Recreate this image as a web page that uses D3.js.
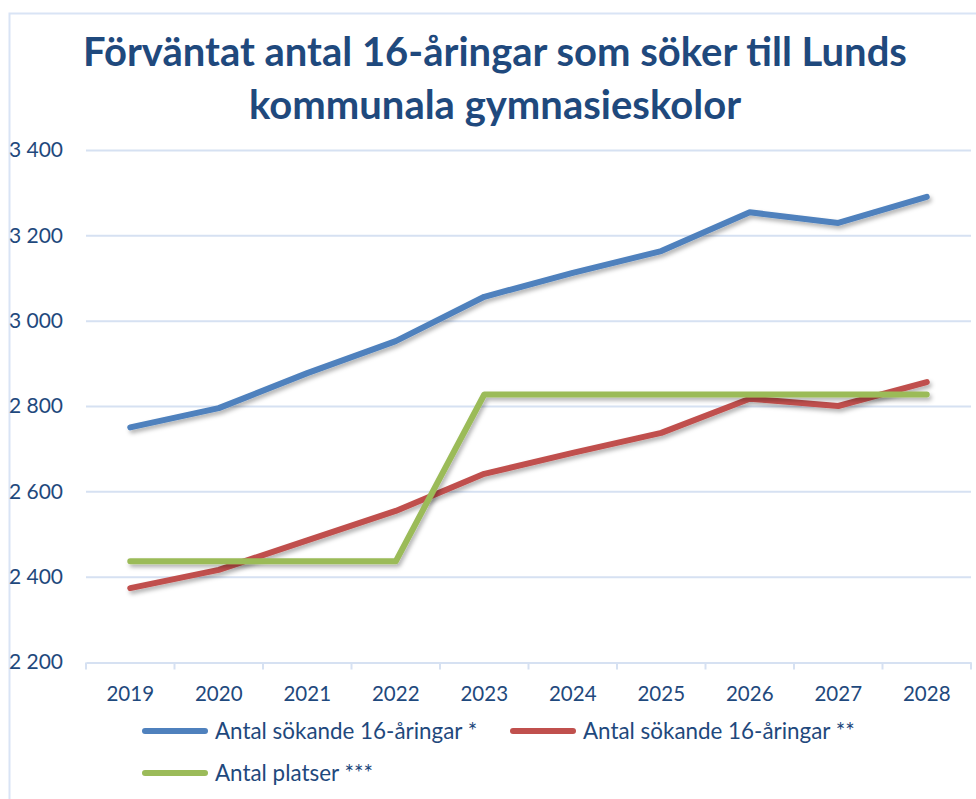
<!DOCTYPE html>
<html>
<head>
<meta charset="utf-8">
<script src="https://cdn.jsdelivr.net/npm/d3@7"></script>
<style>
  body { margin: 0; background: #fff; }
  svg text { font-family: Lato, "Open Sans", sans-serif; }
</style>
</head>
<body>
<div id="chart"></div>
<script>
// values
const years = ["2019", "2020", "2021", "2022", "2023", "2024", "2025", "2026", "2027", "2028"];
const sokandeA = [2750, 2795, 2877, 2952, 3056, 3112, 3163, 3254, 3229, 3290];
const sokandeB = [2373, 2416, 2485, 2554, 2641, 2690, 2737, 2817, 2800, 2856];
const platser = [2436, 2436, 2436, 2436, 2827, 2827, 2827, 2827, 2827, 2827];
const yTicks = [2200, 2400, 2600, 2800, 3000, 3200, 3400];
const titleLines = ["Förväntat antal 16-åringar som söker till Lunds", "kommunala gymnasieskolor"];

const series = [
    {name: "Antal sökande 16-åringar *", values: sokandeA, color: "#4f81bd"},
    {name: "Antal sökande 16-åringar **", values: sokandeB, color: "#c0504d"},
    {name: "Antal platser ***", values: platser, color: "#9bbb59"}
];

const width = 976, height = 799;
const textColor = "#1f497d";
const gridColor = "#d6e1f2";

const svg = d3.select("#chart").append("svg")
    .attr("width", width)
    .attr("height", height);

const defs = svg.append("defs");
defs.append("filter")
    .attr("id", "shadow")
    .attr("x", "-10%").attr("y", "-10%")
    .attr("width", "120%").attr("height", "130%")
    .append("feDropShadow")
    .attr("dx", 2).attr("dy", 3)
    .attr("stdDeviation", 2)
    .attr("flood-color", "#000")
    .attr("flood-opacity", 0.3);

// outer frame
svg.append("rect")
    .attr("x", 9.5).attr("y", 13.5)
    .attr("width", 1000).attr("height", 1000)
    .attr("fill", "none")
    .attr("stroke", "#d9e4f5")
    .attr("stroke-width", 2);

// title
svg.append("text")
    .attr("text-anchor", "middle")
    .attr("fill", textColor)
    .style("font-weight", "bold")
    .style("font-size", "40px")
    .selectAll("tspan")
    .data(titleLines)
    .join("tspan")
    .attr("x", 495)
    .attr("y", (d, i) => 66 + i * 53)
    .text(d => d);

const x = d3.scaleBand().domain(years).range([86, 971]);
const y = d3.scaleLinear().domain([2200, 3400]).range([662, 150]);

// gridlines
svg.append("g")
    .selectAll("line")
    .data(yTicks.slice(1))
    .join("line")
    .attr("x1", 86).attr("x2", 971)
    .attr("y1", d => y(d) + 0.5).attr("y2", d => y(d) + 0.5)
    .attr("stroke", gridColor)
    .attr("stroke-width", 2);

// y labels
svg.append("g")
    .selectAll("text")
    .data(yTicks)
    .join("text")
    .attr("x", 63)
    .attr("y", d => y(d))
    .attr("dy", "0.35em")
    .attr("text-anchor", "end")
    .attr("fill", textColor)
    .style("font-size", "21px")
    .text(d => d3.format(",")(d).replace(",", " "));

// x axis
const xAxis = svg.append("g")
    .attr("transform", `translate(0,${y(2200) + 0.5})`)
    .call(d3.axisBottom(x).tickSize(0).tickPadding(24));
xAxis.select(".domain").attr("stroke", gridColor).attr("stroke-width", 2);
xAxis.selectAll("text")
    .attr("fill", textColor)
    .style("font-size", "20.5px")
    .style("font-family", "Lato, sans-serif");
xAxis.selectAll(".band-tick")
    .data(years.concat(["end"]))
    .join("line")
    .attr("class", "band-tick")
    .attr("x1", (d, i) => 86 + i * x.step())
    .attr("x2", (d, i) => 86 + i * x.step())
    .attr("y1", 0).attr("y2", 7)
    .attr("stroke", gridColor)
    .attr("stroke-width", 2);

// lines
const line = d3.line()
    .x((d, i) => x(years[i]) + x.bandwidth() / 2)
    .y(d => y(d));

svg.append("g")
    .selectAll("path")
    .data(series)
    .join("path")
    .attr("d", d => line(d.values))
    .attr("fill", "none")
    .attr("stroke", d => d.color)
    .attr("stroke-width", 6)
    .attr("stroke-linejoin", "round")
    .attr("stroke-linecap", "round")
    .attr("filter", "url(#shadow)");

// legend
const legendPos = [[142, 731], [510, 731], [142, 773]];
const legend = svg.append("g")
    .selectAll("g")
    .data(series)
    .join("g")
    .attr("transform", (d, i) => `translate(${legendPos[i][0]},${legendPos[i][1]})`);

legend.append("line")
    .attr("x1", 3).attr("x2", 63)
    .attr("stroke", d => d.color)
    .attr("stroke-width", 6)
    .attr("stroke-linecap", "round");

legend.append("text")
    .attr("x", 73)
    .attr("dy", "0.35em")
    .attr("fill", textColor)
    .style("font-size", "22.4px")
    .text(d => d.name);
</script>
</body>
</html>
